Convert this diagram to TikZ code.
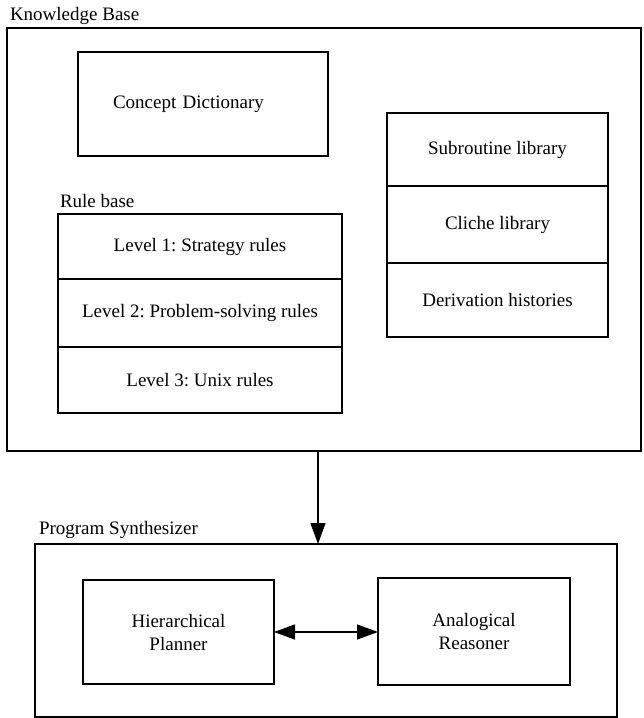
\documentclass[tikz,border=0pt]{standalone}
\usepackage{fontspec}
\setmainfont{Liberation Serif}
\usetikzlibrary{arrows.meta,calc}
\frenchspacing
\begin{document}
\begin{tikzpicture}[x=1pt,y=-1pt,
  every node/.style={font=\fontsize{19}{23}\selectfont},
  box/.style={draw, line width=1.3pt, rectangle, outer sep=0pt, inner sep=0pt, align=center},
  boxlabel/.style={anchor=base west, inner sep=0pt, outer sep=0pt},
  >={Triangle[length=21pt,width=15pt]}]
\useasboundingbox (0,0) rectangle (643,718);
% Knowledge Base
\node[box, minimum width=634, minimum height=423] (kb) at (324,239.5) {};
\node[boxlabel] (kbl) at ($(kb.north west)+(3,-8)$) {Knowledge Base};
% Concept Dictionary
\node[box, minimum width=250, minimum height=104, align=left, text width=180, inner xsep=35] (cd) at (203,104) {Concept Dictionary};
% Rule base
\node[box, minimum width=284, minimum height=65] (r1) at (200,246.5) {Level 1: Strategy rules};
\node[box, minimum width=284, minimum height=68] (r2) at (200,313) {Level 2: Problem-solving rules};
\node[box, minimum width=284, minimum height=66] (r3) at (200,380) {Level 3: Unix rules};
\node[boxlabel] (rbl) at ($(r1.north west)+(2,-7)$) {Rule base};
% Libraries
\node[box, minimum width=221, minimum height=73] (s1) at (497.5,149.5) {Subroutine library};
\node[box, minimum width=221, minimum height=77] (s2) at (497.5,224.5) {Cliche library};
\node[box, minimum width=221, minimum height=74] (s3) at (497.5,300) {Derivation histories};
% Program Synthesizer
\node[box, minimum width=582, minimum height=173] (ps) at (326,630.5) {};
\node[boxlabel] (psl) at ($(ps.north west)+(4,-10)$) {Program Synthesizer};
\node[box, minimum width=191, minimum height=104] (hp) at (178.5,632) {Hierarchical\\Planner};
\node[box, minimum width=192, minimum height=107] (ar) at (474,631.5) {Analogical\\Reasoner};
% connectors
\coordinate (ax) at (318,0);
\draw[->, line width=1.3pt] (kb.south -| ax) -- (ps.north -| ax);
\draw[<->, line width=1.3pt] (hp.east) -- (ar.west |- hp.east);
\end{tikzpicture}
\end{document}
